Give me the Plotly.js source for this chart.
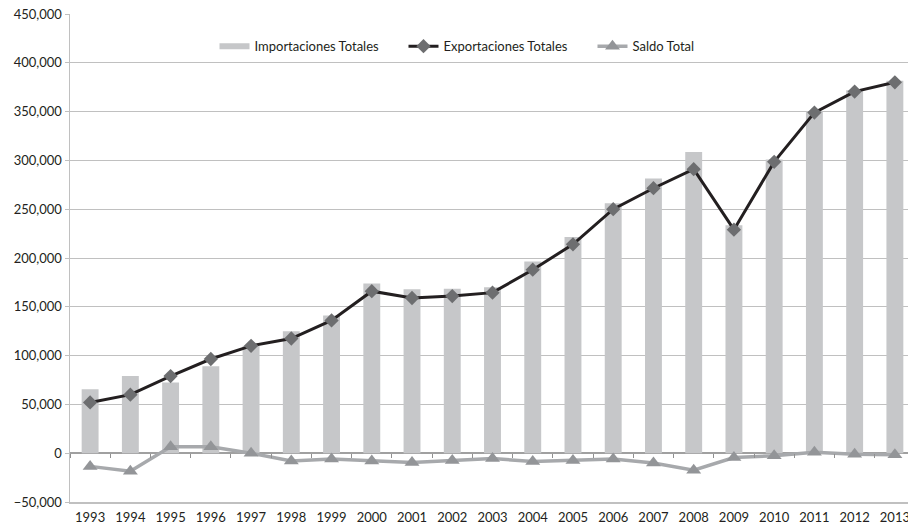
<!DOCTYPE html>
<html><head><meta charset="utf-8">
<script src="https://cdn.plot.ly/plotly-3.0.1.min.js"></script>
<style>html,body{margin:0;padding:0;overflow:hidden;background:#fff}#chart{width:930px;height:525px}</style>
</head><body><div id="chart"></div>
<script>
const years = ['1993','1994','1995','1996','1997','1998','1999','2000','2001','2002','2003','2004','2005','2006','2007','2008','2009','2010','2011','2012','2013'];
const importaciones = [65500, 79000, 72500, 89000, 110000, 125000, 141000, 174000, 168000, 168500, 170000, 196500, 221500, 256000, 281500, 308500, 233500, 301000, 350000, 372000, 381500];
const exportaciones = [52000, 60000, 79000, 96500, 110000, 117500, 136000, 166000, 159000, 161000, 164500, 188000, 214000, 250000, 271500, 291000, 229000, 298500, 349000, 370500, 380000];
const saldo = [-13500, -18500, 6500, 6500, 0, -8000, -6000, -8000, -9500, -7500, -5500, -8500, -7500, -6000, -10000, -17500, -4500, -2500, 1000, -1000, -1500];
const yTicks = [-50000, 0, 50000, 100000, 150000, 200000, 250000, 300000, 350000, 400000, 450000];

const font = {family: 'Lato, "Open Sans", sans-serif', size: 13, color: '#231f20'};
const traces = [
  {type:'bar', x: years, y: importaciones, name:'Importaciones Totales', marker:{color:'#c6c7c9'}, showlegend:false},
  {type:'scatter', mode:'lines', x:[null], y:[null], name:'Importaciones Totales', line:{color:'#c6c7c9', width:6}, hoverinfo:'skip'},
  {type:'scatter', mode:'lines+markers', x: years, y: exportaciones, name:'Exportaciones Totales',
   line:{color:'#231f20', width:3}, marker:{symbol:'diamond', size:11, color:'#6d6e70'}},
  {type:'scatter', mode:'lines+markers', x: years, y: saldo, name:'Saldo Total',
   line:{color:'#a7a9ac', width:3.5}, marker:{symbol:'triangle-up', size:13, color:'#939598'}}
];
const layout = {
  width: 930, height: 525,
  margin: {l:70, r:15, t:14, b:23},
  paper_bgcolor:'#fff', plot_bgcolor:'#fff',
  font: font,
  bargap: 0.58,
  showlegend: true,
  legend: {orientation:'h', x:0.171, xanchor:'left', y:0.934, yanchor:'middle', entrywidth:144, entrywidthmode:'pixels',
           font: font, bgcolor:'rgba(0,0,0,0)', traceorder:'normal'},
  xaxis: {type:'category', range:[-0.5, 20.5], showgrid:false, showline:true, linecolor:'#c0c0c0', linewidth:1.5,
          ticks:'', tickfont: font, zeroline:false, fixedrange:true, ticklabelstandoff:3},
  xaxis2: {type:'category', overlaying:'x', anchor:'free', position:0.1, range:[-0.5, 20.5],
           showgrid:false, showline:false, showticklabels:false, ticks:'outside', ticklen:4, tickcolor:'#909090',
           tickson:'boundaries', tickvals: years},
  yaxis: {range:[-50000, 450000], tickvals: yTicks, tickformat:',d', showgrid:true, gridcolor:'#c0c0c0', gridwidth:1,
          zeroline:true, zerolinecolor:'#a0a0a0', zerolinewidth:1.5,
          showline:true, linecolor:'#c0c0c0', linewidth:1.5, ticks:'outside', ticklen:4, tickcolor:'#c0c0c0', tickfont: font}
};
traces.push({type:'scatter', mode:'markers', x: years, y: saldo, xaxis:'x2', marker:{opacity:0}, showlegend:false, hoverinfo:'skip'});
Plotly.newPlot('chart', traces, layout, {displayModeBar:false, staticPlot:true});
</script></body></html>
